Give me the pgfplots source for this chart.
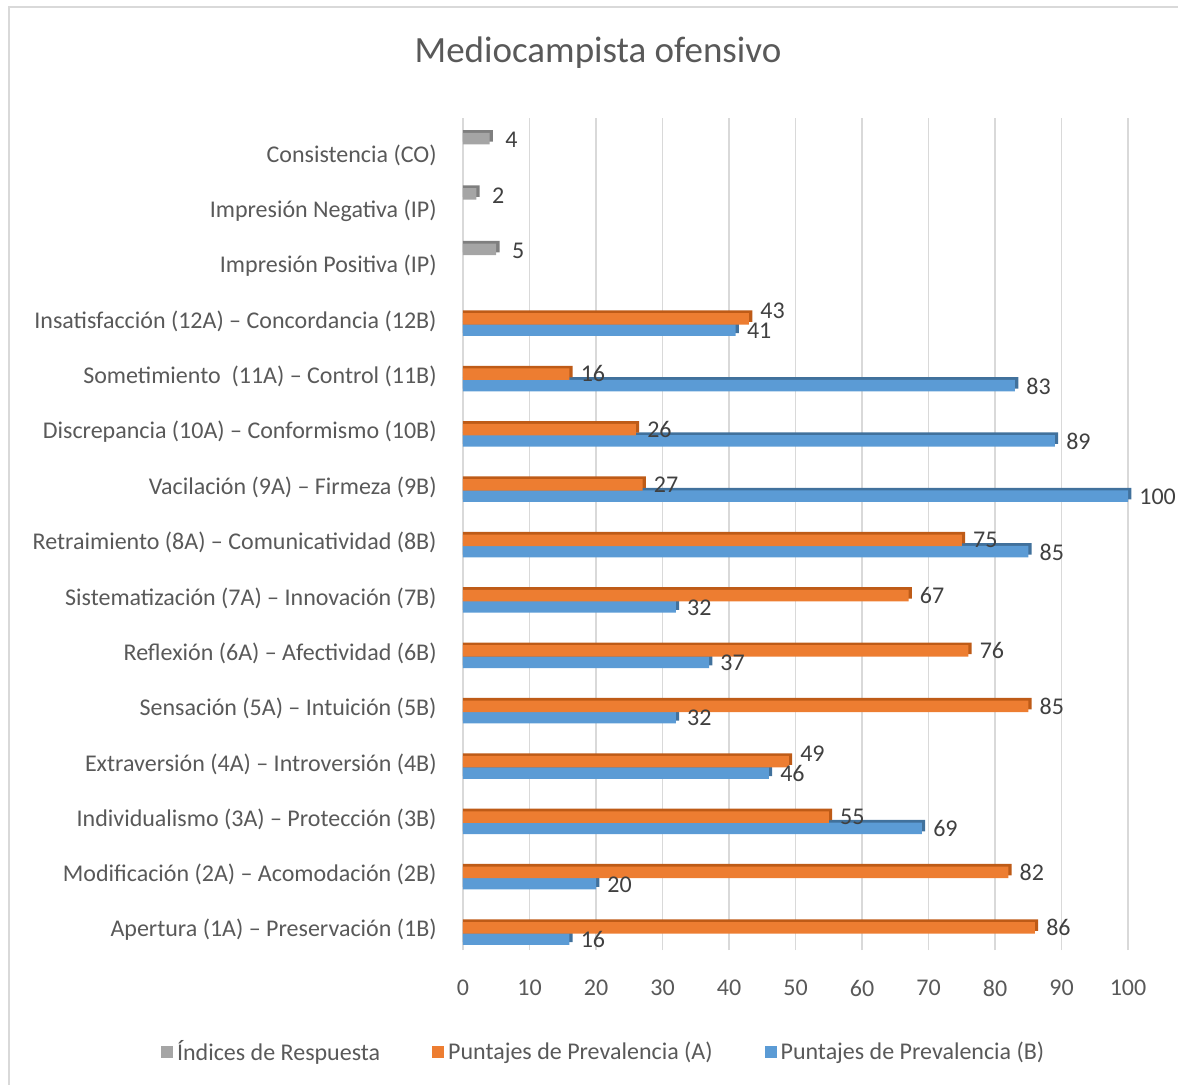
\documentclass[border=0pt]{standalone}
\usepackage{pgfplots}
\pgfplotsset{compat=1.18}
\usepackage{fontspec}
\setmainfont{Carlito}
\definecolor{txt}{HTML}{595959}
\definecolor{vtxt}{HTML}{404040}
\definecolor{gridc}{HTML}{D9D9D9}
\definecolor{cA}{HTML}{ED7D31}
\definecolor{cAd}{HTML}{BE5B17}
\definecolor{cB}{HTML}{5B9BD5}
\definecolor{cBd}{HTML}{41719C}
\definecolor{cG}{HTML}{A5A5A5}
\definecolor{cGd}{HTML}{7F7F7F}
\begin{document}
\begin{tikzpicture}
\useasboundingbox (0,0) rectangle (589pt,-542.5pt);
\draw[color=gridc, line width=1pt] (4.5pt,-545pt) -- (4.5pt,-3.5pt) -- (592pt,-3.5pt);
\node[text=txt, font=\fontsize{18.5}{22}\selectfont] at (299pt,-26.5pt) {Mediocampista ofensivo};
\begin{axis}[
  at={(231.5pt,-475pt)}, anchor=south west,
  scale only axis, width=332.5pt, height=416pt,
  xmin=0, xmax=100, ymin=-0.36, ymax=14.67,
  clip=false,
  axis line style={draw=none},
  major tick length=0pt,
  xtick={0,10,...,100},
  ytick={0,...,14},
  yticklabels={Apertura (1A) – Preservación (1B),
    Modificación (2A) – Acomodación (2B),
    Individualismo (3A) – Protección (3B),
    Extraversión (4A) – Introversión (4B),
    Sensación (5A) – Intuición (5B),
    Reflexión (6A) – Afectividad (6B),
    Sistematización (7A) – Innovación (7B),
    Retraimiento (8A) – Comunicatividad (8B),
    Vacilación (9A) – Firmeza (9B),
    Discrepancia (10A) – Conformismo (10B),
    Sometimiento\ \ (11A) – Control (11B),
    Insatisfacción (12A) – Concordancia (12B),
    Impresión Positiva (IP),
    Impresión Negativa (IP),
    Consistencia (CO)},
  xmajorgrids, grid style={color=gridc, line width=0.75pt},
  tick label style={text=txt, font=\fontsize{12}{14}\selectfont},
  /pgf/number format/assume math mode=true,
  yticklabel style={anchor=east, inner sep=0pt, xshift=-13pt},
  xticklabel style={anchor=north, inner sep=0pt, yshift=-14.7pt},
  bar width=5.75pt,
  legend columns=3,
  legend style={draw=none, fill=none, at={(0.213,-0.1226)}, anchor=center,
    font=\fontsize{12}{14}\selectfont, text=txt,
    /tikz/every even column/.append style={column sep=24pt},
    inner sep=0pt},
  legend image code/.code={\fill[#1] (0pt,-3pt) rectangle (6pt,3pt);},
  every node near coord/.append style={text=vtxt, font=\fontsize{12}{14}\selectfont, anchor=west, inner sep=0pt, xshift=5.5pt},
]
\addlegendimage{fill=cG, draw=none}
\addlegendentry{Índices de Respuesta}
\addlegendimage{fill=cA, draw=none}
\addlegendentry{Puntajes de Prevalencia (A)}
\addlegendimage{fill=cB, draw=none}
\addlegendentry{Puntajes de Prevalencia (B)}
% Indices de respuesta
\addplot[xbar, bar shift=9.6pt, fill=cGd, draw=none, forget plot]
  coordinates {(5.5,12) (2.5,13) (4.5,14)};
\addplot[xbar, bar shift=8.25pt, fill=cG, draw=none, forget plot, nodes near coords,
  every node near coord/.append style={yshift=7.5pt, xshift=2.2pt}]
  coordinates {(5,12) (2,13) (4,14)};
% B
\addplot[xbar, bar shift=-3.15pt, fill=cBd, draw=none, forget plot]
  coordinates {(16.5,0) (20.5,1) (69.5,2) (46.5,3) (32.5,4) (37.5,5) (32.5,6) (85.5,7) (100.5,8) (89.5,9) (83.5,10) (41.5,11)};
\addplot[xbar, bar shift=-4.5pt, fill=cB, draw=none, forget plot, nodes near coords,
  every node near coord/.append style={yshift=-4.8pt}]
  coordinates {(16,0) (20,1) (69,2) (46,3) (32,4) (37,5) (32,6) (85,7) (100,8) (89,9) (83,10) (41,11)};
% A
\addplot[xbar, bar shift=2.5pt, fill=cAd, draw=none, forget plot]
  coordinates {(86.5,0) (82.5,1) (55.5,2) (49.5,3) (85.5,4) (76.5,5) (67.5,6) (75.5,7) (27.5,8) (26.5,9) (16.5,10) (43.5,11)};
\addplot[xbar, bar shift=1.15pt, fill=cA, draw=none, forget plot, nodes near coords,
  every node near coord/.append style={yshift=1.3pt},
  coordinate style/.condition={\coordindex==11}{yshift=4pt},
  coordinate style/.condition={\coordindex==3}{yshift=4pt}]
  coordinates {(86,0) (82,1) (55,2) (49,3) (85,4) (76,5) (67,6) (75,7) (27,8) (26,9) (16,10) (43,11)};
\end{axis}
\end{tikzpicture}
\end{document}
